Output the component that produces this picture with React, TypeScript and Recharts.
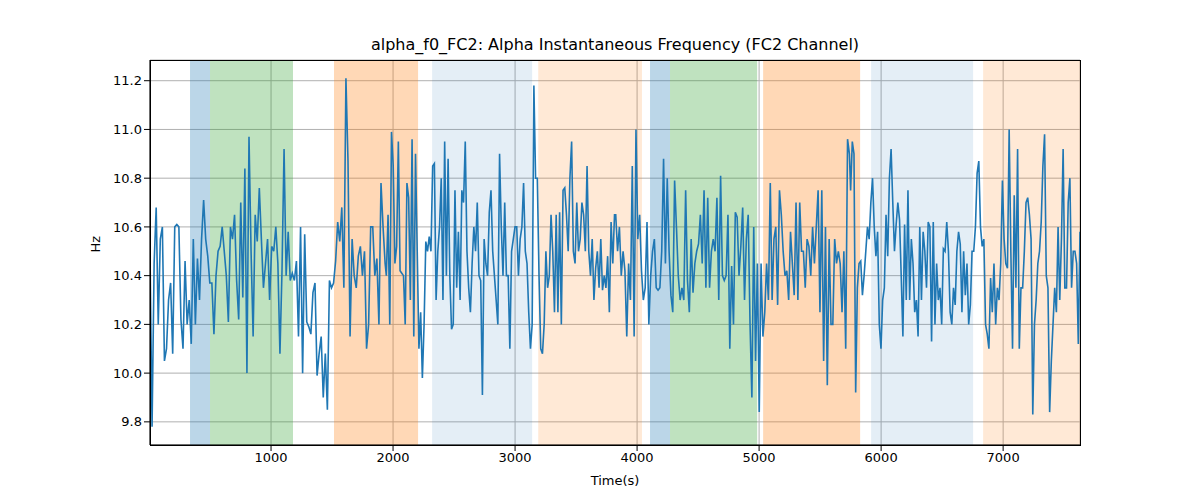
import React from "react";
import { LineChart, Line, XAxis, YAxis, CartesianGrid, ReferenceArea, Label } from "recharts";

const seg1 = [10.5,9.78,10.45,10.68,10.2,10.55,10.6,10.05,10.1,10.3,10.37,10.08,10.6,10.61,10.6,10.22,10.1,10.46,10.2,10.3,10.12,10.55,10.2,10.47,10.3,10.55,10.71,10.55,10.48,10.37,10.37,10.16,10.4,10.5,10.52,10.6,10.5,10.4,10.21,10.6,10.55,10.65,10.38,10.22,10.7,10.31,10.84,10.0,10.97,10.5,10.15,10.65,10.54,10.76,10.55,10.35,10.45,10.55,10.3,10.52,10.5,10.6,10.45,10.08,10.42,10.92,10.4,10.58,10.38,10.41,10.38,10.46,10.15,10.6,10.0,10.57,10.21,10.19,10.16,10.33,10.37,9.99,10.08,10.15,9.9,10.08,9.85,10.38,10.35,10.37,10.46,10.62,10.54,10.68,10.35,11.21,10.87,10.15,10.55,10.4,10.35,10.48,10.52,10.4,10.5,10.1,10.2,10.6,10.6,10.4,10.47,10.2,10.78,10.6,10.45];
const seg2 = [10.4,10.65,10.2,10.99,10.85,10.45,10.52,10.95,10.42,10.41,10.4,10.2,10.78,10.72,10.3,10.96,10.15,10.9,10.5,10.1,10.25,9.98,10.2,10.54,10.5,10.56,10.5,10.85,10.86,10.3,10.5,10.6,10.8,10.3,10.95,10.4,10.88,10.4,10.18,10.2,10.75,10.35,10.58,10.3,10.75,10.7,10.95,10.5,10.35,10.25,10.45,10.6,10.5,10.7,10.4,10.38,9.91,10.55,10.45,10.4,10.66,10.75,10.5,10.4,10.3,10.2,10.9,10.6,10.4,10.7,10.4,10.4,10.1,10.5,10.55,10.6,10.6,10.4,10.55,10.6,10.78,10.5,10.45,10.25,10.1,10.2,11.18,10.8,10.8,10.4,10.1,10.08,10.2,10.5,10.35,10.4,10.65,10.5,10.25,10.65,10.25,10.66,10.2,10.75,10.76,10.65,10.5,10.8,10.95,10.5,10.45,10.7,10.5,10.55,10.7,10.65,10.5,10.85,10.5,10.4,10.55,10.3,10.43,10.5,10.35,10.55,10.34,10.4,10.35,10.48,10.25,10.62,10.45,10.65];
const seg3 = [10.65,10.5,10.6,10.4,10.5,10.42,10.15,10.45,10.3,10.85,10.15,11.0,10.55,10.65,10.42,10.3,10.35,10.62,10.2,10.4,10.5,10.55,10.35,10.34,10.35,10.5,10.88,10.45,10.8,10.5,10.32,10.25,10.79,10.6,10.4,10.3,10.35,10.3,10.75,10.38,10.25,10.55,10.33,10.45,10.5,10.53,10.65,10.45,10.75,10.35,10.72,10.35,10.5,10.55,10.5,10.72,10.3,10.81,10.4,10.38,10.4,10.65,10.1,10.44,10.2,10.66,10.64,10.4,10.52,10.68,10.3,10.55,10.65,10.2,9.9,10.6,10.05,10.45,9.84,10.45,10.15,10.25,10.45,10.3,10.78,10.3,10.55,10.6,10.28,10.75,10.65,10.5,10.4,10.42,10.3,10.58,10.45,10.32,10.7,10.3,10.7,10.5,10.5,10.35,10.55,10.52,10.4,10.6,10.45,10.6,10.75,10.25,10.75,10.05,10.6,9.95,10.55,10.2,10.2,10.55,10.45,10.5,10.45,10.25,10.5,10.1,10.96,10.9];
const seg4 = [10.75,10.95,10.9,9.92,10.35,10.45,10.46,10.32,10.4,10.5,10.6,10.55,10.7,10.8,10.6,10.48,10.58,10.2,10.1,10.3,10.35,10.65,10.48,10.8,10.92,10.7,10.5,10.61,10.7,10.63,10.4,10.15,10.61,10.3,10.75,10.3,10.55,10.45,10.25,10.3,10.15,10.6,10.3,10.58,10.5,10.35,10.62,10.6,10.13,10.62,10.2,10.45,10.3,10.35,10.2,10.51,10.5,10.62,10.5,10.25,10.2,10.35,10.28,10.5,10.58,10.53,10.25,10.5,10.32,10.45,10.2,10.28,10.5,10.5,10.6,10.82,10.87,10.6,10.52,10.55,10.2,10.16,10.1,10.39,10.25,10.45,10.2,10.35,10.3,10.45,10.79,10.55,10.45,10.43,11.0,10.5,10.1,10.73,10.35,10.92,10.1,10.35,10.35,10.5,10.7,10.72,10.65,10.55,9.83,10.2,10.3,10.45,10.5,10.62,10.85,10.98,10.4,10.35,9.84,10.05,10.2,10.35,10.25,10.6,10.3,10.55,10.92,10.35,10.35,10.7,10.8,10.35,10.5,10.5,10.45,10.12,10.58];
const segBounds = [[8, 1935], [1945, 3815], [3825, 5740], [5750, 7630]];

const bands = [
  { x1: 336, x2: 500, color: "#1f77b4", op: 0.3 },
  { x1: 500, x2: 1180, color: "#2ca02c", op: 0.3 },
  { x1: 1516, x2: 2205, color: "#ff7f0e", op: 0.3 },
  { x1: 2320, x2: 3140, color: "#1f77b4", op: 0.12 },
  { x1: 3190, x2: 4040, color: "#ff7f0e", op: 0.17 },
  { x1: 4106, x2: 4270, color: "#1f77b4", op: 0.3 },
  { x1: 4270, x2: 4984, color: "#2ca02c", op: 0.3 },
  { x1: 5033, x2: 5828, color: "#ff7f0e", op: 0.3 },
  { x1: 5918, x2: 6754, color: "#1f77b4", op: 0.12 },
  { x1: 6836, x2: 7630, color: "#ff7f0e", op: 0.17 },
];

const xTicks = [1000, 2000, 3000, 4000, 5000, 6000, 7000];
const yTicks = [9.8, 10.0, 10.2, 10.4, 10.6, 10.8, 11.0, 11.2];

const data: { t: number; v: number }[] = [];
[seg1, seg2, seg3, seg4].forEach((s, k) => {
  const [a, b] = segBounds[k];
  s.forEach((v, i) => data.push({ t: a + ((b - a) * i) / (s.length - 1), v }));
});

export default function App() {
  return (
    <div style={{ margin: -8, width: 1200, height: 500, position: "relative", background: "#fff", fontFamily: "DejaVu Sans" }}>
      <div style={{ position: "absolute", top: 35, left: 150, width: 930, textAlign: "center", fontSize: 16 }}>
        alpha_f0_FC2: Alpha Instantaneous Frequency (FC2 Channel)
      </div>
      <LineChart width={1200} height={500} data={data} margin={{ top: 60, right: 120, bottom: 0, left: 90 }}>
        <CartesianGrid stroke="#b0b0b0" strokeWidth={1} vertical horizontal />
        {bands.map((b, i) => (
          <ReferenceArea key={i} x1={b.x1} x2={b.x2} fill={b.color} fillOpacity={b.op} stroke="none" ifOverflow="hidden" />
        ))}
        <XAxis dataKey="t" type="number" domain={[8, 7630]} ticks={xTicks} allowDataOverflow tick={{ fill: "#000", fontSize: 13 }} tickLine={{ stroke: "#000" }} axisLine={{ stroke: "#000" }} height={55}>
          <Label value="Time(s)" position="insideBottom" offset={15} style={{ fill: "#000", fontSize: 13 }} />
        </XAxis>
        <YAxis type="number" domain={[9.705, 11.285]} ticks={yTicks} allowDataOverflow tickFormatter={(v: number) => v.toFixed(1)} tick={{ fill: "#000", fontSize: 13 }} tickLine={{ stroke: "#000" }} axisLine={{ stroke: "#000" }} width={60}>
          <Label value="Hz" angle={-90} position="insideLeft" offset={5} style={{ fill: "#000", fontSize: 13 }} />
        </YAxis>
        <Line dataKey="v" stroke="#1f77b4" strokeWidth={1.6} dot={false} isAnimationActive={false} />
      </LineChart>
      <div style={{ position: "absolute", top: 60, left: 150, width: 929, height: 384, border: "1px solid #000", pointerEvents: "none" }} />
    </div>
  );
}
